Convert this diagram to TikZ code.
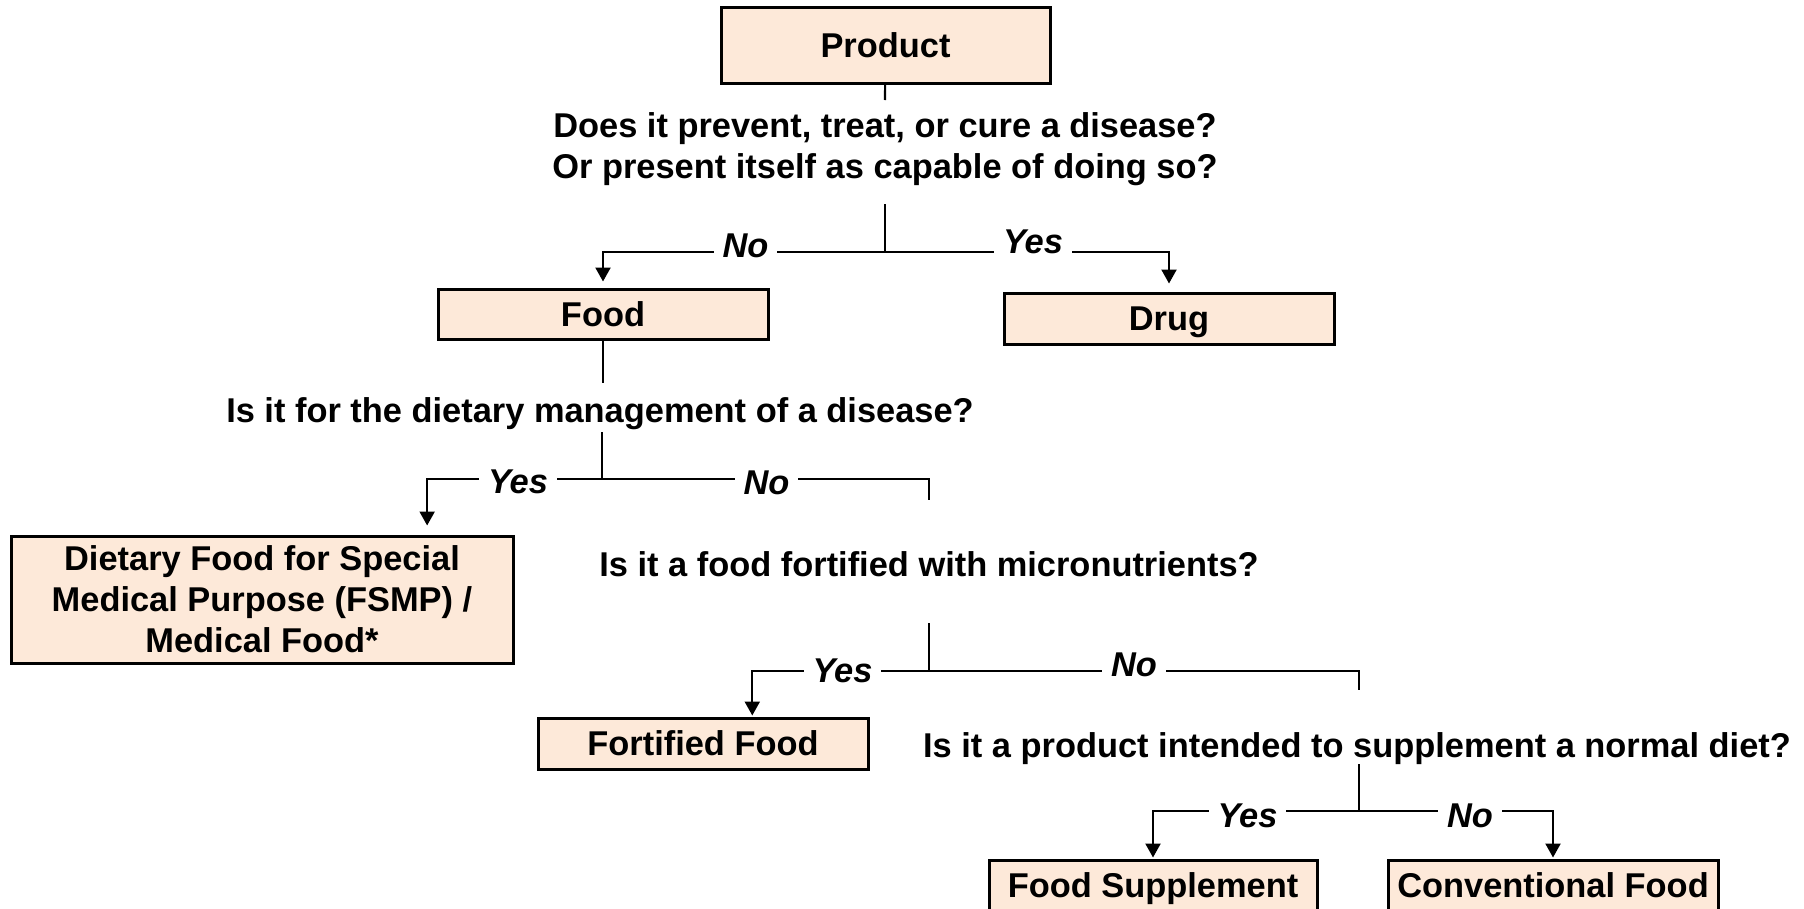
\documentclass[tikz,border=0pt]{standalone}
\usepackage{fontspec}
\setmainfont{Liberation Sans}
\usetikzlibrary{arrows.meta,calc}

\definecolor{boxfill}{RGB}{253,233,217}
\newcommand{\chartfont}{\fontsize{34.4}{41}\selectfont\bfseries}

\tikzset{
	outcome/.style={draw, line width=3pt, fill=boxfill, inner sep=0pt, align=center},
	oneline/.style={text height=24.6pt, text depth=0pt},
	question/.style={inner sep=0pt, align=center},
	answer/.style={fill=white, inner xsep=9pt, inner ysep=0pt, font=\chartfont\itshape, text height=24.6pt, text depth=0pt},
	link/.style={line width=2.2pt},
	arr/.style={link, -{Triangle[length=14pt,width=15pt]}}
}

\begin{document}
\begin{tikzpicture}[x=1pt, y=-1pt, font=\chartfont]
	\useasboundingbox (0,0) rectangle (1804,908);
	\clip (0,0) rectangle (1804,908);

	% outcomes
	\node[outcome, oneline, minimum width=329pt, minimum height=76pt] (product) at (885.5,45) {Product};
	\node[outcome, oneline, minimum width=330pt, minimum height=50pt] (food) at (603,314) {Food};
	\node[outcome, oneline, minimum width=330pt, minimum height=51pt] (drug) at (1169,318.5) {Drug};
	\node[outcome, minimum width=502pt, minimum height=127pt] (fsmp) at (262,599.5)
		{Dietary Food for Special\\Medical Purpose (FSMP) /\\Medical Food*};
	\node[outcome, oneline, minimum width=330pt, minimum height=51pt] (fortified) at (703,743.5) {Fortified Food};
	\node[outcome, oneline, minimum width=328pt, minimum height=51pt] (supplement) at (1153,885.5) {Food Supplement};
	\node[outcome, oneline, minimum width=330pt, minimum height=51pt] (conventional) at (1553,885.5) {Conventional Food};

	% questions
	\node[question] (q1) at (885,149.5) {Does it prevent, treat, or cure a disease?\\Or present itself as capable of doing so?};
	\node[question, anchor=base] (q2) at (600,422) {Is it for the dietary management of a disease?};
	\node[question, anchor=base] (q3) at (929,576) {Is it a food fortified with micronutrients?};
	\node[question, anchor=base] (q4) at (1357,757) {Is it a product intended to supplement a normal diet?};

	\coordinate (q1in) at (885,100);
	\coordinate (q1out) at (885,204);
	\coordinate (q1fork) at (885,252);
	\coordinate (q2in) at (603,383);
	\coordinate (q2out) at (602,432);
	\coordinate (q2fork) at (602,479);
	\coordinate (q3in) at (929,500);
	\coordinate (q3out) at (929,623);
	\coordinate (q3fork) at (929,671);
	\coordinate (q4in) at (1359,690);
	\coordinate (q4out) at (1359,764);
	\coordinate (q4fork) at (1359,811);

	% connectors
	\draw[link] (product) -- (q1in);
	\draw[link] (q1out) -- (q1fork);
	\draw[arr, shorten >=6pt] (q1fork) -| (food);
	\draw[arr, shorten >=8pt] (q1fork) -| (drug);

	\draw[link] (food) -- (q2in);
	\draw[link] (q2out) -- (q2fork);
	\draw[arr, shorten >=9pt] (q2fork) -| ($(fsmp.north west)!0.827!(fsmp.north east)$);
	\draw[link] (q2fork) -| (q3in);

	\draw[link] (q3out) -- (q3fork);
	\draw[arr, shorten >=1pt] (q3fork) -| ($(fortified.north west)!0.648!(fortified.north east)$);
	\draw[link] (q3fork) -| (q4in);

	\draw[link] (q4out) -- (q4fork);
	\draw[arr, shorten >=1pt] (q4fork) -| (supplement);
	\draw[arr, shorten >=1pt] (q4fork) -| (conventional);

	% answers
	\node[answer] (no1) at (745.5,245) {No};
	\node[answer] (yes1) at (1033,241) {Yes};
	\node[answer] (yes2) at (518,481) {Yes};
	\node[answer] (no2) at (766.5,482) {No};
	\node[answer] (yes3) at (842.5,670) {Yes};
	\node[answer] (no3) at (1134,664) {No};
	\node[answer] (yes4) at (1247.5,815.5) {Yes};
	\node[answer] (no4) at (1470,815.5) {No};
\end{tikzpicture}
\end{document}
